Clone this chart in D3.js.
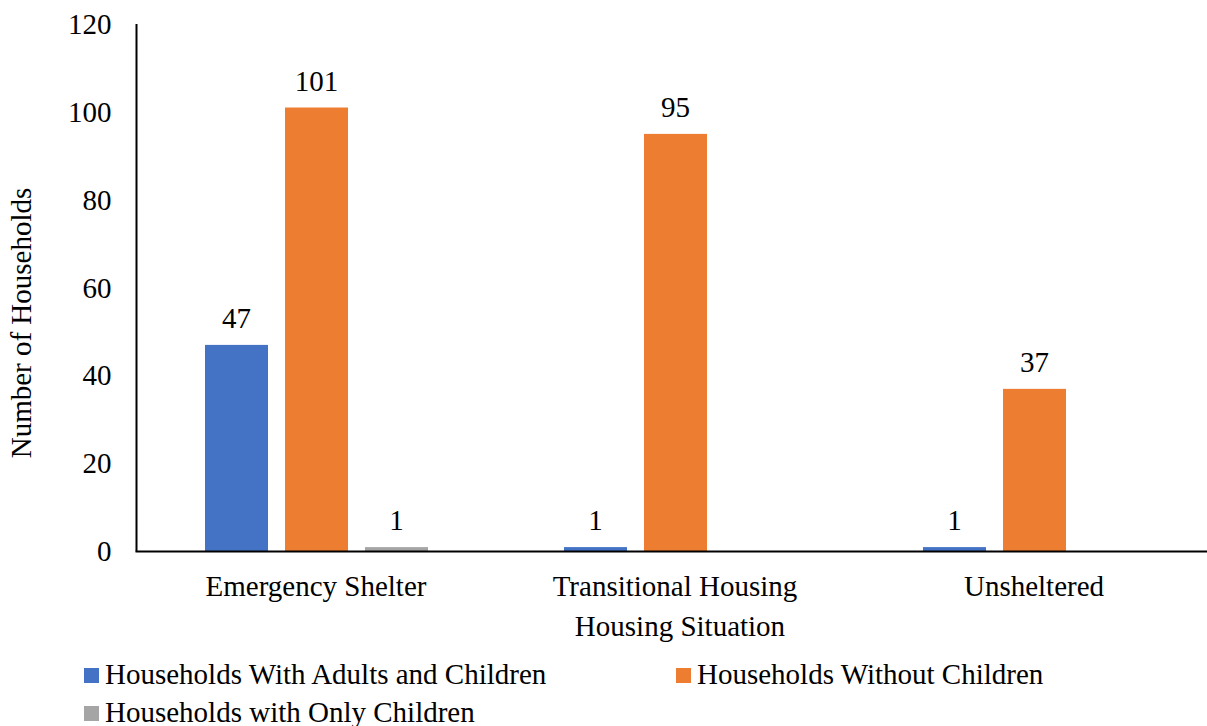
<!DOCTYPE html>
<html>
<head>
<meta charset="utf-8">
<script src="https://cdn.jsdelivr.net/npm/d3@7"></script>
</head>
<body style="margin:0">
<svg id="s" width="1207" height="726"></svg>
<script>
const categories = ["Emergency Shelter", "Transitional Housing", "Unsheltered"];
const seriesNames = ["Households With Adults and Children", "Households Without Children", "Households with Only Children"];
const adultsAndChildren = [47, 1, 1];
const withoutChildren = [101, 95, 37];
const onlyChildren = [1, null, null];
const yTicks = [0, 20, 40, 60, 80, 100, 120];
const colors = ["#4472C4", "#ED7D31", "#A5A5A5"];

const seriesValues = [adultsAndChildren, withoutChildren, onlyChildren];
const FONT = '"Liberation Serif"';

const svg = d3.select("#s");
const fs = 29;

const y = d3.scaleLinear().domain([0, 120]).range([551.5, 24]);
const x0 = d3.scaleBand().domain(categories).range([136.5, 1213.5]).padding(0);
const x1 = d3.scaleBand().domain(seriesNames).range([68.5, 291.5]).paddingInner(0.2125).paddingOuter(0);

// y axis tick labels
const yAxis = d3.axisLeft(y).tickValues(yTicks).tickSize(0).tickPadding(25);
const gy = svg.append("g").attr("transform", "translate(136.5,0)").call(yAxis);
gy.attr("font-family", FONT).attr("font-size", fs);
gy.select(".domain").remove();
gy.selectAll("text").attr("fill", "#000").attr("font-family", FONT).attr("font-size", fs);

// bars
const data = [];
categories.forEach((c, i) => {
  seriesNames.forEach((s, j) => {
    const v = seriesValues[j][i];
    if (v !== null && v !== undefined) data.push({ c, s, v, j });
  });
});

svg.append("g").selectAll("rect").data(data).join("rect")
  .attr("x", d => x0(d.c) + x1(d.s))
  .attr("width", x1.bandwidth())
  .attr("y", d => y(d.v))
  .attr("height", d => y(0) - y(d.v))
  .attr("fill", d => colors[d.j]);

svg.append("g").selectAll("text").data(data).join("text")
  .attr("x", d => x0(d.c) + x1(d.s) + x1.bandwidth() / 2)
  .attr("y", d => y(d.v) - 17)
  .attr("text-anchor", "middle")
  .attr("font-family", FONT).attr("font-size", fs).attr("fill", "#000")
  .text(d => d.v);

// axes lines
svg.append("line").attr("x1", 136.5).attr("x2", 136.5).attr("y1", y(120)).attr("y2", y(0))
  .attr("stroke", "#000").attr("stroke-width", 2);
const xAxis = d3.axisBottom(x0).tickSize(0).tickPadding(24);
const gx = svg.append("g").attr("transform", "translate(0," + y(0) + ")").call(xAxis);
gx.attr("font-family", FONT).attr("font-size", fs);
gx.select(".domain").attr("stroke", "#000").attr("stroke-width", 2).attr("d", "M135.5,0H1207");
gx.selectAll("text").attr("fill", "#000").attr("font-family", FONT).attr("font-size", fs);

// axis titles
svg.append("text").attr("x", 680).attr("y", 636).attr("text-anchor", "middle")
  .attr("font-family", FONT).attr("font-size", fs).attr("fill", "#000").text("Housing Situation");
svg.append("text").attr("transform", "translate(31,323) rotate(-90)").attr("text-anchor", "middle")
  .attr("font-family", FONT).attr("font-size", fs).attr("fill", "#000").text("Number of Households");

// legend
const legendPos = [{ x: 84, y: 668 }, { x: 676, y: 668 }, { x: 84, y: 706 }];
const lg = svg.append("g").selectAll("g").data(seriesNames).join("g")
  .attr("transform", (d, i) => `translate(${legendPos[i].x},${legendPos[i].y})`);
lg.append("rect").attr("width", 15).attr("height", 15).attr("fill", (d, i) => colors[i]);
lg.append("text").attr("x", 21).attr("y", 16)
  .attr("font-family", FONT).attr("font-size", fs).attr("fill", "#000").text(d => d);
</script>
</body>
</html>
